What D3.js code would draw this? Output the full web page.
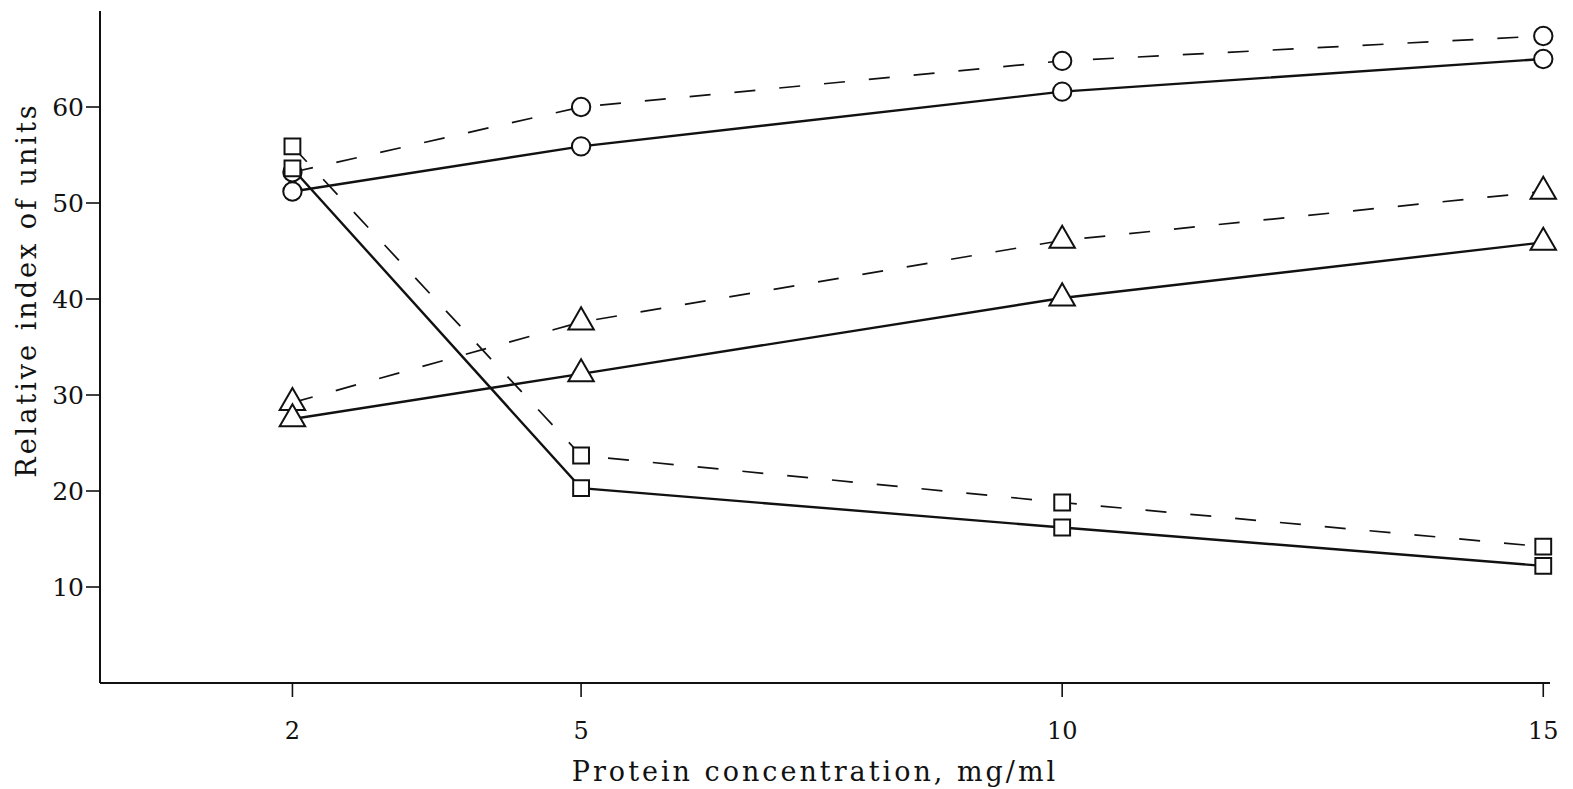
<!DOCTYPE html>
<html>
<head>
<meta charset="utf-8">
<script src="https://cdn.jsdelivr.net/npm/d3@7"></script>
<style>
  body { margin: 0; background: #fff; }
  svg text { font-family: "DejaVu Serif", "Liberation Serif", serif; fill: #111; }
</style>
</head>
<body>
<svg id="chart" width="1573" height="789"></svg>
<script>
// Concentrations (mg/ml)
const concentrations = [2, 5, 10, 15];

// Relative index of units
const circleDashed   = [53.2, 60.0, 64.8, 67.4];
const circleSolid    = [51.2, 55.9, 61.6, 65.0];
const triangleDashed = [29.2, 37.6, 46.1, 51.2];
const triangleSolid  = [27.5, 32.2, 40.1, 45.9];
const squareDashed   = [55.9, 23.7, 18.8, 14.2];
const squareSolid    = [53.6, 20.3, 16.2, 12.2];

const yTicks = [10, 20, 30, 40, 50, 60];

const series = [
  { values: circleDashed,   marker: "circle",   dashed: true },
  { values: circleSolid,    marker: "circle",   dashed: false },
  { values: triangleDashed, marker: "triangle", dashed: true },
  { values: triangleSolid,  marker: "triangle", dashed: false },
  { values: squareDashed,   marker: "square",   dashed: true },
  { values: squareSolid,    marker: "square",   dashed: false }
];

const svg = d3.select("#chart");

const x = d3.scaleLinear().domain([0, 15.07]).range([100, 1550]);
const y = d3.scaleLinear().domain([0, 70]).range([683, 11]);

// Axes
svg.append("line")
  .attr("x1", x(0)).attr("x2", x(0))
  .attr("y1", y(70)).attr("y2", y(0))
  .attr("stroke", "#111").attr("stroke-width", 2);
svg.append("line")
  .attr("x1", x(0)).attr("x2", x(15.07))
  .attr("y1", y(0)).attr("y2", y(0))
  .attr("stroke", "#111").attr("stroke-width", 2);

// Y ticks
const yt = svg.append("g");
yt.selectAll("line").data(yTicks).join("line")
  .attr("x1", x(0) - 14).attr("x2", x(0))
  .attr("y1", d => y(d)).attr("y2", d => y(d))
  .attr("stroke", "#111").attr("stroke-width", 1.6);
yt.selectAll("text").data(yTicks).join("text")
  .attr("x", x(0) - 16).attr("y", d => y(d))
  .attr("dy", "0.36em")
  .attr("text-anchor", "end")
  .style("font-size", "25px")
  .text(d => d);

// X ticks
const xt = svg.append("g");
xt.selectAll("line").data(concentrations).join("line")
  .attr("x1", d => x(d)).attr("x2", d => x(d))
  .attr("y1", y(0)).attr("y2", y(0) + 14)
  .attr("stroke", "#111").attr("stroke-width", 1.6);
xt.selectAll("text").data(concentrations).join("text")
  .attr("x", d => x(d)).attr("y", 739)
  .attr("text-anchor", "middle")
  .style("font-size", "24px")
  .text(d => d);

// Axis titles
svg.append("text")
  .attr("x", 815).attr("y", 781)
  .attr("text-anchor", "middle")
  .style("font-size", "27px")
  .style("letter-spacing", "3px")
  .text("Protein concentration,  mg/ml");

svg.append("text")
  .attr("transform", "translate(36,290) rotate(-90)")
  .attr("text-anchor", "middle")
  .style("font-size", "27px")
  .style("letter-spacing", "3px")
  .text("Relative index of units");

// Lines
const line = d3.line()
  .x((d, i) => x(concentrations[i]))
  .y(d => y(d));

svg.append("g").selectAll("path").data(series).join("path")
  .attr("d", d => line(d.values))
  .attr("fill", "none")
  .attr("stroke", "#111")
  .attr("stroke-width", d => d.dashed ? 1.7 : 2.4)
  .attr("stroke-dasharray", d => d.dashed ? "21,24" : null);

// Markers
const symbols = { circle: d3.symbolCircle, triangle: d3.symbolTriangle, square: d3.symbolSquare };
const sizes = { circle: 265, triangle: 280, square: 250 };

series.forEach(s => {
  svg.append("g").selectAll("path").data(s.values).join("path")
    .attr("transform", (d, i) => `translate(${x(concentrations[i])},${y(d)})`)
    .attr("d", d3.symbol().type(symbols[s.marker]).size(sizes[s.marker]))
    .attr("fill", "#fff")
    .attr("stroke", "#111")
    .attr("stroke-width", 2);
});
</script>
</body>
</html>
